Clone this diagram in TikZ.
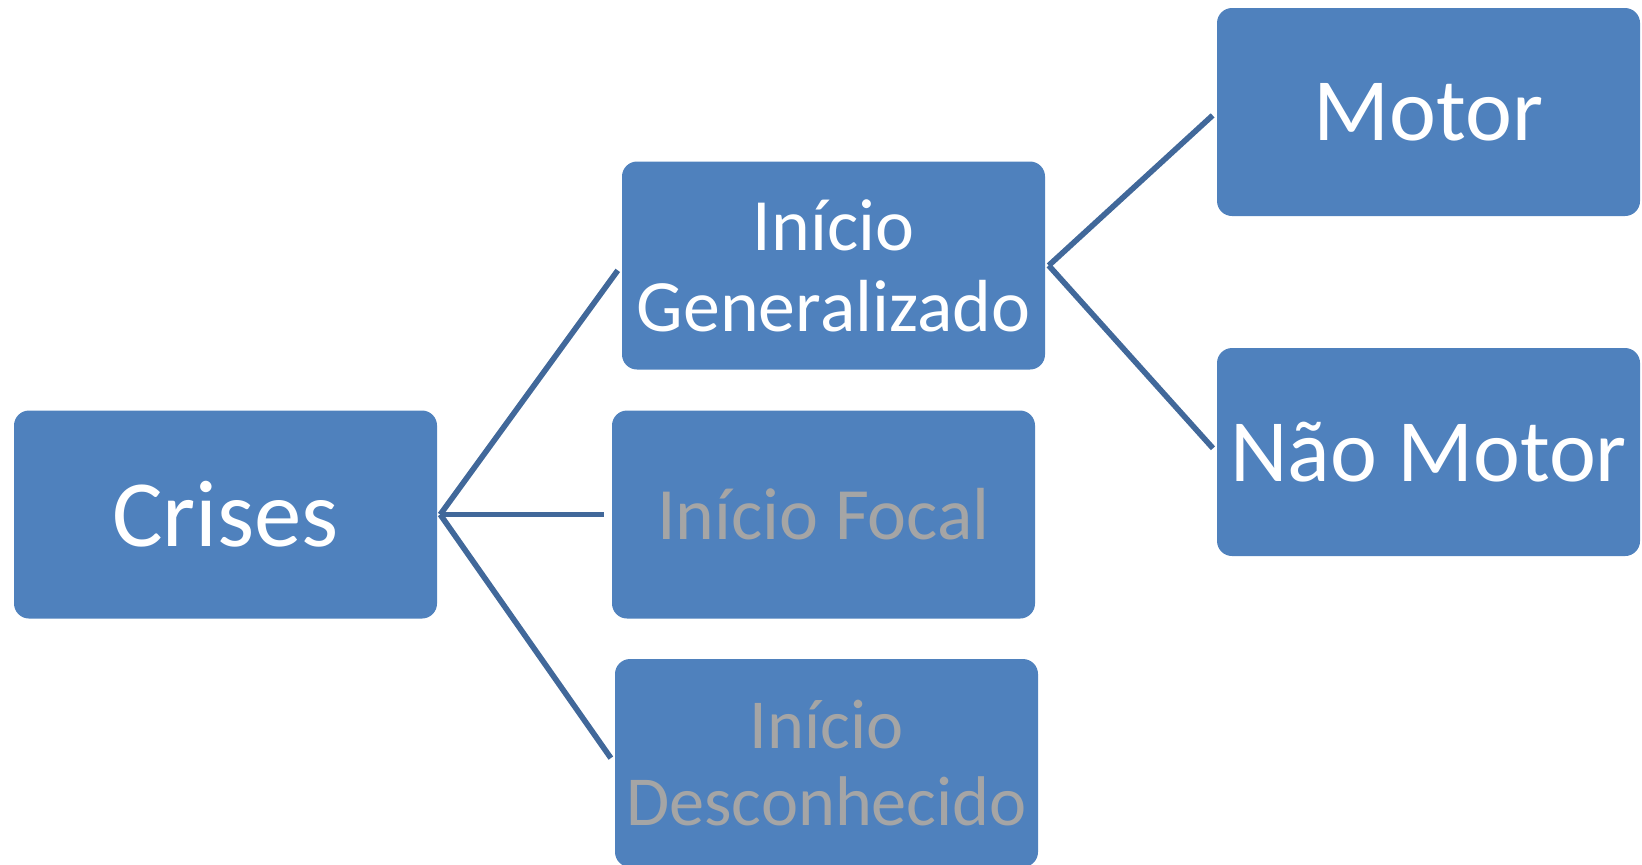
\documentclass[tikz,border=0pt]{standalone}
\usepackage{fontspec}
\setmainfont{Carlito}
\usepackage{xcolor}
\definecolor{boxblue}{HTML}{4F81BD}
\definecolor{linkblue}{RGB}{65,104,154}
\definecolor{dimtext}{HTML}{A5A5A5}

\tikzset{
    box/.style={fill=boxblue, rounded corners=1.5mm, minimum width=42.3mm,
        minimum height=20.8mm, inner sep=0pt, align=center, text=white},
    link/.style={draw=linkblue, line width=1.6pt},
    huge/.style={font=\fontsize{27}{32}\selectfont},
    large/.style={font=\fontsize{25.3}{30}\selectfont},
    mid/.style={font=\fontsize{21}{23}\selectfont},
}

\begin{document}
\begin{tikzpicture}[x=0.1mm, y=-0.1mm]
        \useasboundingbox (0,0) rectangle (1642,864);

        % Draw the boxes
        \node[box, huge] (crises) at (225.5,514.5) {Crises};
        \node[box, mid] (gen) at (833.5,265.5) {Início\\Generalizado};
        \node[box, mid, text=dimtext] (focal) at (823.5,514.5) {Início Focal};
        \node[box, mid, text=dimtext, font=\fontsize{20}{22}\selectfont] (desc) at (826.5,763) {Início\\Desconhecido};
        \node[box, large] (motor) at (1428.5,112) {Motor};
        \node[box, large] (naomotor) at (1428.5,452) {Não Motor};

        % Draw the connectors
        \coordinate (fork) at ([xshift=0.25mm]crises.east);
        \coordinate (split) at ([xshift=0.3mm]gen.east);
        \draw[link, shorten >=0.6mm] (fork) -- (gen.west);
        \draw[link, shorten >=0.7mm] (fork) -- (focal.west);
        \draw[link, shorten >=0.6mm] (fork) -- (desc.west);
        \draw[link, shorten >=0.5mm] (split) -- (motor.west);
        \draw[link, shorten >=0.5mm] (split) -- (naomotor.west);

    \end{tikzpicture}
\end{document}
